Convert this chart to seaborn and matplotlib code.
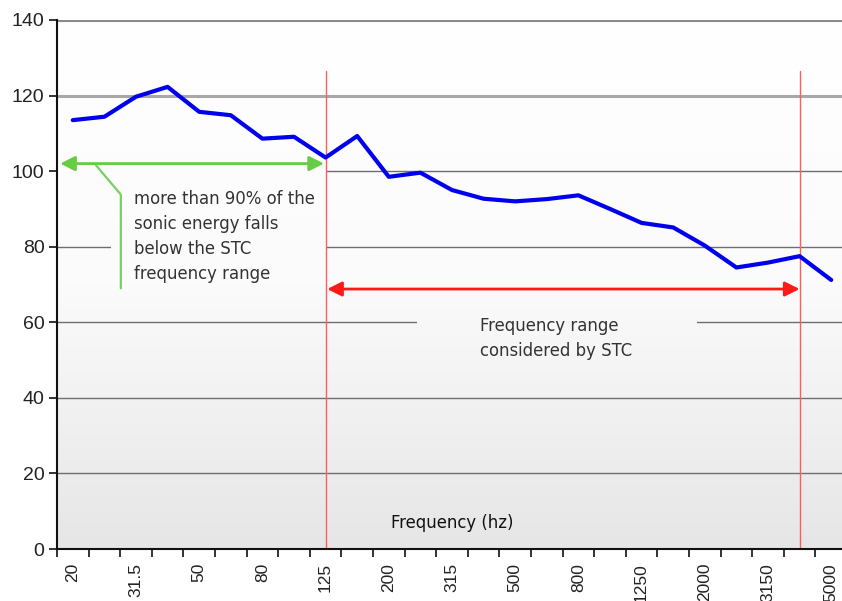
import numpy as np
import pandas as pd
import seaborn as sns
import matplotlib.pyplot as plt
from matplotlib.colors import LinearSegmentedColormap
from matplotlib.patches import Rectangle

# third-octave band centres and measured level
freqs = ['20', '25', '31.5', '40', '50', '63', '80', '100', '125', '160',
         '200', '250', '315', '400', '500', '630', '800', '1000', '1250', '1600',
         '2000', '2500', '3150', '4000', '5000']
levels = [113.5, 114.4, 119.7, 122.3, 115.7, 114.8, 108.6, 109.1, 103.6, 109.3,
          98.5, 99.6, 95.0, 92.7, 92.0, 92.6, 93.6, 90.0, 86.3, 85.1,
          80.3, 74.5, 75.8, 77.5, 71.2]
y_ticks = [0, 20, 40, 60, 80, 100, 120, 140]
stc_band = ['125', '4000']

df = pd.DataFrame({'idx': np.arange(len(freqs)), 'freq': freqs, 'level': levels})

sns.set_style('white')
plt.rcParams['font.family'] = ['Liberation Sans', 'DejaVu Sans']

fig = plt.figure(figsize=(8.42, 6.01), dpi=100)
ax = fig.add_axes([57 / 842, 1 - 549 / 601, 790 / 842, 529 / 601])

x0, x1 = -0.5, len(freqs) - 0.5
grad = np.linspace(1, 0, 256).reshape(-1, 1)
cmap = LinearSegmentedColormap.from_list('bg', ['#e6e6e6', '#fbfbfb', '#ffffff'])


def shade(xa, xb, ya, yb, z):
    im = ax.imshow(grad, extent=[x0, x1, 0, 140], aspect='auto', cmap=cmap,
                   vmin=0, vmax=1, zorder=z)
    r = Rectangle((xa, ya), xb - xa, yb - ya, transform=ax.transData)
    im.set_clip_path(r)


# plot background gradient
shade(x0, x1, 0, 140, 0)

# gridlines
for v in y_ticks[1:]:
    if v == 140:
        ax.axhline(v, color='#8a8a8a', lw=2.2, zorder=1)
    elif v == 120:
        ax.axhline(v, color='#a8a8a8', lw=2.2, zorder=1)
    else:
        ax.axhline(v, color='#6e6e6e', lw=1, zorder=1)

# patches of background hiding the grid behind the notes
shade(x0, 8.0, 95, 104, 1.5)
shade(1.2, 8.0, 66, 96, 1.5)
shade(10.9, 19.75, 48, 64, 1.5)

# STC range markers
for f in stc_band:
    ax.plot([freqs.index(f)] * 2, [0, 126.5], color='#ff5c5c', lw=1, zorder=2)

sns.lineplot(data=df, x='idx', y='level', color='#0000ee', lw=3,
             ax=ax, zorder=3)

ax.set_xlim(x0, x1)
ax.set_ylim(0, 140)

# arrows
ax.annotate('', xy=(-0.4, 102), xytext=(7.95, 102),
            arrowprops=dict(arrowstyle='<|-|>', color='#66cc44', lw=2,
                            mutation_scale=22, shrinkA=0, shrinkB=0), zorder=4)
ax.plot([0.73, 1.52, 1.52], [101.6, 93.8, 69], color='#77d060', lw=1.6, zorder=4)
ax.text(1.93, 95.0, 'more than 90% of the\nsonic energy falls\nbelow the STC\nfrequency range',
        fontsize=11.9, color='#333333', va='top', ha='left', linespacing=1.5,
        family=['DejaVu Sans'], zorder=4)

ax.annotate('', xy=(8.05, 68.8), xytext=(23.0, 68.8),
            arrowprops=dict(arrowstyle='<|-|>', color='#ff1a1a', lw=2,
                            mutation_scale=22, shrinkA=0, shrinkB=0), zorder=4)
ax.text(12.9, 61.3, 'Frequency range\nconsidered by STC',
        fontsize=11.9, color='#333333', va='top', ha='left', linespacing=1.5,
        family=['DejaVu Sans'], zorder=4)

ax.text(12.0, 7.0, 'Frequency (hz)', fontsize=11.9, color='#111111',
        ha='center', va='center', family=['DejaVu Sans'], zorder=4)

# axes styling
for s in ['top', 'right']:
    ax.spines[s].set_visible(False)
ax.spines['left'].set_color('#111111')
ax.spines['bottom'].set_color('#111111')
ax.spines['left'].set_linewidth(1.5)
ax.spines['bottom'].set_linewidth(1.5)
ax.spines['left'].set_zorder(5)
ax.spines['bottom'].set_zorder(5)

ax.set_yticks(y_ticks)
ax.set_yticklabels([str(v) for v in y_ticks], fontsize=14, color='#222222')
ax.tick_params(axis='y', length=6, width=1.2, color='#111111', pad=3, left=True)

ax.set_xticks(np.arange(0, len(freqs), 2))
ax.set_xticklabels(freqs[::2], rotation=90, fontsize=12.5, color='#222222')
ax.set_xticks(np.arange(x0, x1 + 0.01, 1), minor=True)
ax.tick_params(axis='x', which='major', length=0, pad=10)
ax.tick_params(axis='x', which='minor', length=6, width=1.2, color='#111111',
               bottom=True, direction='out')

ax.set_xlabel('')
ax.set_ylabel('')

fig.savefig('out.png', dpi=100)
